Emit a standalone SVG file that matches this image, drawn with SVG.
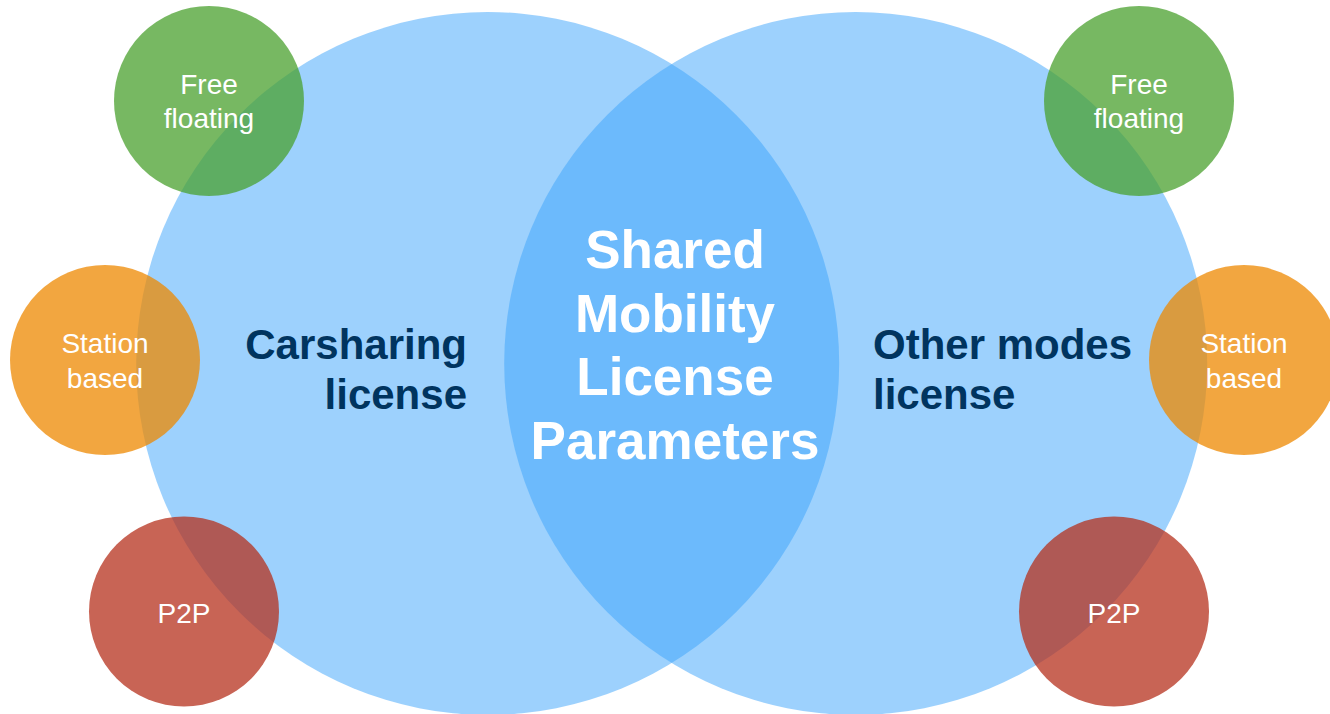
<svg xmlns="http://www.w3.org/2000/svg" width="1330" height="714" viewBox="0 0 1330 714">
<style>
.big{fill:#3BA3FB;fill-opacity:0.5}
.green{fill:#4AA02E;fill-opacity:0.75}
.orange{fill:#EE8800;fill-opacity:0.75}
.red{fill:#B6301C;fill-opacity:0.75}
.small{font-family:"Liberation Sans",Arial,sans-serif;font-size:28px;fill:#ffffff;text-anchor:middle}
.center{font-family:"Liberation Sans",Arial,sans-serif;font-size:53px;font-weight:bold;fill:#ffffff;text-anchor:middle}
.side{font-family:"Liberation Sans",Arial,sans-serif;font-size:42px;font-weight:bold;fill:#00345F}
</style>
<rect width="1330" height="714" fill="#ffffff"/>
<g id="carsharing-license">
<circle class="big" cx="487.7" cy="363.5" r="351.5"/>
</g>
<g id="other-modes-license">
<circle class="big" cx="855.7" cy="363.5" r="351.5"/>
</g>
<g id="shared-mobility-label">
<text class="center" x="675" y="268">Shared</text>
<text class="center" x="675" y="331.5">Mobility</text>
<text class="center" x="675" y="395">License</text>
<text class="center" x="675" y="458.5">Parameters</text>
</g>
<g id="carsharing-label">
<text class="side" x="467" y="359" text-anchor="end">Carsharing</text>
<text class="side" x="467" y="409" text-anchor="end">license</text>
</g>
<g id="other-modes-label">
<text class="side" x="873" y="359">Other modes</text>
<text class="side" x="873" y="409">license</text>
</g>
<g id="left-free-floating">
<circle class="green" cx="209" cy="101" r="95"/>
<text class="small" x="209" y="94">Free</text>
<text class="small" x="209" y="128">floating</text>
</g>
<g id="left-station-based">
<circle class="orange" cx="105" cy="360" r="95"/>
<text class="small" x="105" y="353">Station</text>
<text class="small" x="105" y="388">based</text>
</g>
<g id="left-p2p">
<circle class="red" cx="184" cy="611.5" r="95"/>
<text class="small" x="184" y="622.5">P2P</text>
</g>
<g id="right-free-floating">
<circle class="green" cx="1139" cy="101" r="95"/>
<text class="small" x="1139" y="94">Free</text>
<text class="small" x="1139" y="128">floating</text>
</g>
<g id="right-station-based">
<circle class="orange" cx="1244" cy="360" r="95"/>
<text class="small" x="1244" y="353">Station</text>
<text class="small" x="1244" y="388">based</text>
</g>
<g id="right-p2p">
<circle class="red" cx="1114" cy="611.5" r="95"/>
<text class="small" x="1114" y="622.5">P2P</text>
</g>
<g id="connectors"/>
</svg>
